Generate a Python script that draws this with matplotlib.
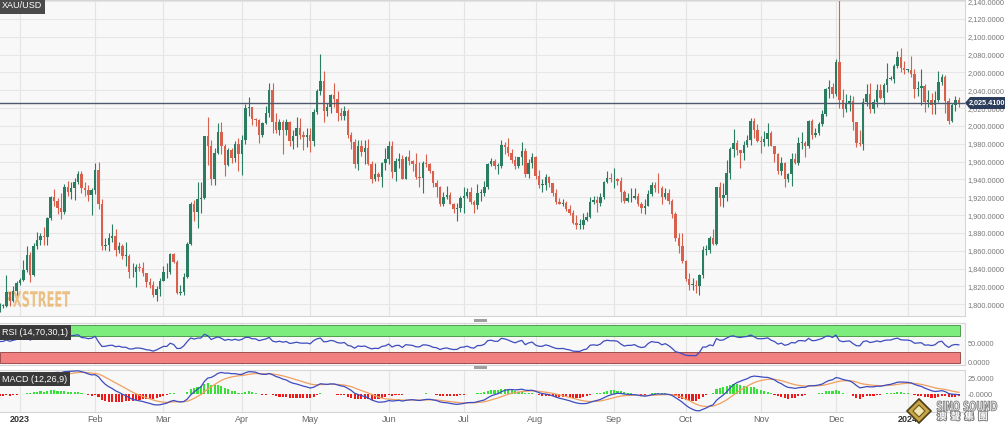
import matplotlib
matplotlib.use('Agg')
import matplotlib.pyplot as plt
import matplotlib.patheffects as pe
from matplotlib.patches import Polygon, Rectangle, PathPatch
from matplotlib.textpath import TextPath
from matplotlib.font_manager import FontProperties
from matplotlib.transforms import Affine2D
import numpy as np
import pandas as pd

plt.rcParams['font.family'] = ['Liberation Sans', 'DejaVu Sans', 'Noto Sans CJK TC']

# closes before the visible window (Oct 17 - Nov 30 2022), only feed RSI / MACD
pre_closes = [1650, 1652, 1629, 1628, 1657, 1650, 1652, 1665, 1663, 1644, 1634,
              1647, 1635, 1629, 1681, 1676, 1712, 1706, 1755, 1771, 1771, 1777,
              1774, 1761, 1751, 1738, 1740, 1750, 1755, 1754, 1741, 1749, 1768]

# XAU/USD daily, one value per weekday from Dec 1 2022 to Jan 22 2024
closes = [
    1803, 1797, 1768, 1771, 1786, 1789, 1797, 1781, 1810, 1807, 1777, 1793, 1788, 1817, 1814, 1792, 1798, 1798, 1814, 1804, 1815, 1824,  # dec
    1827, 1839, 1855, 1833, 1865, 1872, 1877, 1875, 1897, 1920, 1916, 1908, 1904, 1932, 1926, 1931, 1937, 1946, 1930, 1928, 1923, 1928,  # jan
    1951, 1912, 1865, 1867, 1874, 1877, 1861, 1865, 1854, 1854, 1836, 1836, 1842, 1841, 1835, 1825, 1822, 1811, 1817, 1826,  # feb
    1836, 1836, 1856, 1847, 1813, 1814, 1831, 1868, 1913, 1904, 1918, 1919, 1989, 1978, 1941, 1970, 1993, 1978, 1956, 1973, 1964, 1980, 1969,  # mar
    1984, 2020, 2021, 2008, 2007, 1990, 2003, 2015, 2040, 2004, 1995, 2005, 1995, 2004, 1983, 1989, 1998, 1990, 1988, 1990,  # apr
    1983, 2016, 2039, 2050, 2017, 2021, 2035, 2030, 2015, 2011, 2017, 1990, 1982, 1957, 1977, 1971, 1975, 1957, 1941, 1946, 1943, 1959, 1963,  # may
    1978, 1948, 1961, 1963, 1940, 1965, 1961, 1957, 1943, 1942, 1958, 1957, 1950, 1936, 1932, 1913, 1920, 1923, 1913, 1907, 1908, 1919,  # jun
    1921, 1926, 1915, 1911, 1925, 1925, 1932, 1957, 1961, 1955, 1955, 1979, 1976, 1970, 1962, 1955, 1965, 1972, 1946, 1959, 1965,  # jul
    1944, 1934, 1934, 1943, 1936, 1925, 1915, 1913, 1914, 1907, 1902, 1891, 1889, 1889, 1895, 1898, 1915, 1917, 1914, 1920, 1937, 1942, 1940,  # aug
    1940, 1938, 1926, 1916, 1919, 1919, 1922, 1913, 1908, 1910, 1924, 1934, 1931, 1930, 1920, 1925, 1916, 1901, 1874, 1865, 1849,  # sep
    1828, 1822, 1822, 1820, 1833, 1861, 1861, 1874, 1868, 1932, 1919, 1923, 1947, 1974, 1981, 1973, 1970, 1979, 1984, 2006, 1996, 1983,  # oct
    1982, 1985, 1992, 1978, 1969, 1950, 1958, 1940, 1946, 1963, 1959, 1981, 1981, 1978, 2006, 1990, 1992, 2002, 2014, 2041, 2044, 2036,  # nov
    2072, 2029, 2019, 2025, 2028, 2004, 1981, 1980, 2027, 2036, 2019, 2027, 2040, 2031, 2046, 2053, 2053, 2067, 2077, 2065, 2063,  # dec
    2063, 2058, 2041, 2043, 2045, 2027, 2029, 2024, 2029, 2049, 2055, 2028, 2006, 2023, 2029, 2025.41,  # jan 2024
]
highs = [
    1804, 1810, 1810, 1779, 1792, 1793, 1810, 1798, 1824, 1813, 1809, 1797, 1799, 1822, 1823, 1823, 1802, 1800, 1833, 1814, 1820, 1826,
    1830, 1850, 1865, 1859, 1869, 1881, 1880, 1887, 1898, 1922, 1929, 1919, 1925, 1935, 1938, 1937, 1942, 1949, 1949, 1937, 1934, 1931,
    1959, 1960, 1918, 1874, 1880, 1890, 1885, 1870, 1868, 1870, 1856, 1846, 1845, 1846, 1848, 1834, 1830, 1826, 1821, 1830,
    1843, 1846, 1858, 1858, 1850, 1822, 1835, 1870, 1915, 1917, 1937, 1937, 1989, 2010, 1984, 1975, 2003, 2004, 1980, 1975, 1975, 1983, 1987,
    1990, 2025, 2032, 2021, 2009, 2008, 2005, 2022, 2048, 2048, 2015, 2008, 2007, 2008, 2006, 1996, 2010, 2009, 1994, 1998,
    1998, 2019, 2042, 2081, 2062, 2026, 2036, 2048, 2039, 2020, 2022, 2019, 1993, 1985, 1984, 1984, 1984, 1985, 1961, 1958, 1948, 1960, 1975,
    1983, 1983, 1964, 1970, 1967, 1966, 1973, 1962, 1970, 1960, 1961, 1969, 1959, 1950, 1939, 1933, 1926, 1933, 1926, 1914, 1914, 1921,
    1932, 1930, 1932, 1917, 1935, 1929, 1938, 1959, 1964, 1963, 1959, 1984, 1982, 1987, 1974, 1966, 1965, 1982, 1975, 1963, 1970,
    1966, 1951, 1941, 1946, 1944, 1936, 1929, 1919, 1918, 1916, 1911, 1906, 1900, 1896, 1902, 1903, 1920, 1922, 1921, 1925, 1938, 1949, 1947,
    1953, 1942, 1943, 1928, 1925, 1930, 1930, 1925, 1915, 1918, 1928, 1937, 1937, 1947, 1933, 1931, 1929, 1918, 1904, 1880, 1880,
    1850, 1835, 1829, 1827, 1834, 1865, 1867, 1877, 1885, 1932, 1937, 1936, 1962, 1976, 1997, 1984, 1973, 1983, 1990, 2009, 2009, 2002,
    1989, 1994, 2003, 1994, 1978, 1970, 1965, 1960, 1947, 1970, 1970, 1988, 1993, 1983, 2007, 2008, 1998, 2005, 2018, 2043, 2052, 2048,
    2075, 2146, 2042, 2036, 2035, 2034, 2005, 1995, 2031, 2047, 2048, 2030, 2047, 2047, 2048, 2071, 2056, 2070, 2084, 2088, 2073,
    2064, 2079, 2064, 2050, 2064, 2047, 2040, 2037, 2039, 2062, 2058, 2057, 2031, 2026, 2034, 2033,
]
lows = [
    1767, 1787, 1765, 1765, 1769, 1779, 1788, 1780, 1778, 1798, 1773, 1776, 1785, 1786, 1812, 1784, 1791, 1796, 1797, 1798, 1803, 1811,
    1822, 1826, 1836, 1825, 1832, 1862, 1866, 1867, 1866, 1895, 1910, 1901, 1896, 1901, 1922, 1918, 1917, 1935, 1925, 1921, 1916, 1900,
    1924, 1907, 1861, 1861, 1860, 1870, 1854, 1858, 1851, 1843, 1830, 1831, 1819, 1837, 1832, 1819, 1818, 1808, 1804, 1809,
    1826, 1830, 1834, 1846, 1812, 1810, 1810, 1830, 1867, 1894, 1886, 1902, 1918, 1956, 1934, 1934, 1969, 1969, 1944, 1955, 1959, 1960, 1950,
    1945, 1980, 2011, 2001, 2000, 1981, 1988, 2002, 2010, 1992, 1992, 1990, 1969, 1990, 1978, 1974, 1976, 1985, 1973, 1976,
    1971, 1978, 2013, 2035, 2004, 2011, 2015, 2021, 2006, 2007, 2007, 1987, 1974, 1953, 1951, 1966, 1957, 1956, 1936, 1938, 1938, 1932, 1951,
    1957, 1942, 1938, 1953, 1940, 1940, 1956, 1950, 1940, 1932, 1925, 1954, 1947, 1932, 1920, 1910, 1910, 1918, 1912, 1902, 1893, 1903,
    1902, 1919, 1913, 1902, 1907, 1916, 1922, 1929, 1955, 1952, 1946, 1953, 1969, 1966, 1958, 1952, 1953, 1956, 1943, 1942, 1953,
    1940, 1930, 1926, 1928, 1932, 1922, 1913, 1912, 1910, 1905, 1900, 1890, 1884, 1884, 1885, 1893, 1897, 1913, 1904, 1910, 1918, 1936, 1937,
    1930, 1934, 1915, 1914, 1915, 1915, 1918, 1910, 1902, 1901, 1910, 1921, 1926, 1925, 1913, 1918, 1913, 1897, 1871, 1857, 1846,
    1826, 1816, 1816, 1813, 1810, 1829, 1855, 1858, 1867, 1867, 1910, 1909, 1916, 1940, 1965, 1967, 1953, 1962, 1976, 1979, 1987, 1982,
    1970, 1978, 1978, 1977, 1960, 1946, 1945, 1932, 1937, 1933, 1957, 1956, 1974, 1965, 1975, 1985, 1988, 1990, 2000, 2011, 2031, 2031,
    2034, 2020, 2010, 2016, 2017, 1995, 1976, 1978, 1973, 2022, 2015, 2015, 2021, 2030, 2025, 2038, 2052, 2048, 2065, 2060, 2058,
    2061, 2055, 2031, 2034, 2024, 2016, 2021, 2014, 2013, 2027, 2046, 2015, 2002, 2004, 2017, 2021,
]
last_price = 2025.41
price_ticks = list(range(1800, 2141, 20))

# ---- derived series ----
c = np.array(closes, dtype=float)
o = np.array([pre_closes[-1]] + closes[:-1], dtype=float)   # each candle opens at the prior close
h = np.maximum(np.array(highs, dtype=float), np.maximum(o, c))
l = np.minimum(np.array(lows, dtype=float), np.minimum(o, c))
dates = pd.bdate_range('2022-12-01', periods=len(c))
x = np.arange(len(c))

allc = pd.Series(pre_closes + closes, dtype=float)
d = allc.diff()
gain = d.clip(lower=0).ewm(alpha=1/14, adjust=False).mean()
loss = (-d.clip(upper=0)).ewm(alpha=1/14, adjust=False).mean()
rsi = (100 - 100 / (1 + gain / loss)).values[len(pre_closes):]
ema12 = allc.ewm(span=12, adjust=False).mean()
ema26 = allc.ewm(span=26, adjust=False).mean()
macd = ema12 - ema26
sig = macd.ewm(span=9, adjust=False).mean()
macd = macd.values[len(pre_closes):]
sig = sig.values[len(pre_closes):]
hist = macd - sig

# ---- layout in pixels ----
W, H = 1005, 433
PR = 965            # right edge of the panels
x0 = 22 - 20 / 3.414
x1 = 22 + (PR - 20) / 3.414

fig = plt.figure(figsize=(W / 100, H / 100), dpi=100)
fig.patch.set_facecolor('white')
px_tr = Affine2D().scale(1 / W, 1 / H) + fig.transFigure   # pixel coords, origin bottom-left


def fit_text(owner, s, box, family, color, edge='none', lw=0.0, alpha=1.0, zorder=5):
    # squeeze a text into a pixel box (left, top, right, bottom)
    tp = TextPath((0, 0), s, size=10, prop=FontProperties(family=family, weight='bold'))
    bb = tp.get_extents()
    bl, bt, br, bbm = box
    tr = (Affine2D().translate(-bb.x0, -bb.y0)
          .scale((br - bl) / bb.width, (bbm - bt) / bb.height)
          .translate(bl, H - bbm)) + px_tr
    p = PathPatch(tp, transform=tr, facecolor=color, edgecolor=edge, lw=lw,
                  alpha=alpha, zorder=zorder)
    owner.add_artist(p)
    return p


def panel(top, bottom):
    a = fig.add_axes([0, 1 - bottom / H, PR / W, (bottom - top) / H])
    a.set_facecolor('#F8F8F8')
    a.set_xlim(x0, x1)
    for s in a.spines.values():
        s.set_color('#D6D6D6')
        s.set_linewidth(0.8)
    a.spines['left'].set_visible(False)
    a.yaxis.tick_right()
    a.tick_params(axis='y', length=0, pad=2, labelsize=5.3, labelcolor='#777777')
    a.tick_params(axis='x', length=0, labelbottom=False)
    return a

ax = panel(0, 316)
ax_rsi = panel(323, 365)
ax_macd = panel(370, 412)

month_idx = [i for i in range(1, len(dates))
             if dates[i].month != dates[i - 1].month and dates[i].year >= 2023]
for a in (ax, ax_rsi, ax_macd):
    for i in month_idx:
        a.axvline(i, color='#E4E4E4', lw=0.8, zorder=0)

# ---- main candles ----
ax.set_ylim(1786.9, 2141.3)
ax.set_yticks(price_ticks)
ax.set_yticklabels(['{:,.4f}'.format(p) for p in price_ticks])
ax.grid(axis='y', color='#E6E6E6', lw=0.8, zorder=0)
ax.set_axisbelow(True)

up = c >= o
body_col = np.where(up, '#2B7D62', '#D8604C')
ax.vlines(x, l, h, colors=body_col, lw=0.8, zorder=2)
ax.bar(x, np.maximum(np.abs(c - o), 0.8), bottom=np.minimum(o, c), width=0.72,
       color=body_col, linewidth=0, zorder=3)

ax.axhline(last_price, color='#4E586C', lw=1.0, zorder=4)

# FXStreet watermark behind the candles
fit_text(ax, 'FXSTREET', (6, 291, 70, 307), 'DejaVu Sans', '#E9B66F', alpha=0.85, zorder=1)

# ---- RSI ----
ax_rsi.set_ylim(-5.3, 105.3)
ax_rsi.add_patch(Rectangle((x0, 70), 297.2 - x0, 30, facecolor='#7DEE7D',
                           edgecolor='#3E8E3E', lw=0.6, zorder=1))
ax_rsi.add_patch(Rectangle((x0, 0), 297.2 - x0, 30, facecolor='#F38080',
                           edgecolor='#8E3E3E', lw=0.6, zorder=1))
ax_rsi.plot(x, rsi, color='#3D4CBF', lw=0.9, zorder=3)
ax_rsi.set_yticks([50, 0])
ax_rsi.set_yticklabels(['50.0000', '0.0000'])

# ---- MACD ----
ax_macd.set_ylim(-28, 37.5)
ax_macd.bar(x, hist, width=0.62, color=np.where(hist >= 0, '#36E036', '#EE1A1A'),
            linewidth=0, zorder=2)
ax_macd.plot(x, sig, color='#F0A060', lw=0.9, zorder=3)
ax_macd.plot(x, macd, color='#3D4CBF', lw=0.9, zorder=4)
ax_macd.set_yticks([25, 0])
ax_macd.set_yticklabels(['25.0000', '-0.0000'])

# ---- label boxes ----
fig.text(2 / W, 1 - 6 / H, 'XAU/USD', color='white', fontsize=6.5, va='center',
         bbox=dict(boxstyle='square,pad=0.35', fc='#4A4A4A', ec='none'))
ax_rsi.text(2 / PR, 0.77, 'RSI (14,70,30,1)', transform=ax_rsi.transAxes, color='white',
            fontsize=6.5, va='center', bbox=dict(boxstyle='square,pad=0.3', fc='#3A3A3A', ec='none'), zorder=5)
ax_macd.text(2 / PR, 0.78, 'MACD (12,26,9)', transform=ax_macd.transAxes, color='white',
             fontsize=6.5, va='center', bbox=dict(boxstyle='square,pad=0.3', fc='#3A3A3A', ec='none'), zorder=5)

# drag handles between panels
for yy in (319, 366):
    fig.add_artist(Rectangle((474, H - yy - 3), 13, 3, transform=px_tr,
                             facecolor='#A0A0A0', edgecolor='none'))

# price tag on the right
yt = 103
tag = [(PR, H - yt), (PR + 5, H - yt + 6), (W, H - yt + 6), (W, H - yt - 6), (PR + 5, H - yt - 6)]
fig.add_artist(Polygon(tag, closed=True, transform=px_tr, facecolor='#2C3D5B',
                       edgecolor='none', zorder=5))
fig.text((PR + 4) / W, 1 - yt / H, '2,025.4100', color='white', fontsize=5.2,
         fontweight='bold', va='center', ha='left', zorder=6)

# month labels
for i in month_idx:
    px = (i - x0) / (x1 - x0) * PR
    if dates[i].month == 1:
        fig.text(px / W, 1 - 420 / H, str(dates[i].year), fontsize=6.5, fontweight='bold',
                 color='#333333', ha='center', va='center')
    else:
        fig.text(px / W, 1 - 420 / H, dates[i].strftime('%b'), fontsize=6.5,
                 color='#666666', ha='center', va='center')

# corner watermark
cx, cy, r = 919, 411, 12
fig.add_artist(Polygon([(cx - r, H - cy), (cx, H - cy + r), (cx + r, H - cy), (cx, H - cy - r)],
                       transform=px_tr, facecolor='#C9A545', edgecolor='#4A3E1A', lw=1.2, zorder=6))
r2 = 6
fig.add_artist(Polygon([(cx - r2, H - cy), (cx, H - cy + r2), (cx + r2, H - cy), (cx, H - cy - r2)],
                       transform=px_tr, facecolor='#F2E6B0', edgecolor='#6B5A20', lw=0.8, zorder=7))
fit_text(fig, 'SINO SOUND', (937, 401, 997, 411), 'DejaVu Sans', '#F4F4F4',
         edge='#7A7A7A', lw=0.6, zorder=7)
fig.text(937 / W, 1 - 416.5 / H, '澳  聲  集  團', color='white', fontsize=6.8, fontweight='bold',
         family=['Noto Sans CJK TC', 'DejaVu Sans'], ha='left', va='center', zorder=7,
         path_effects=[pe.withStroke(linewidth=1.5, foreground='#808080')])

fig.savefig('out.png', dpi=100)
